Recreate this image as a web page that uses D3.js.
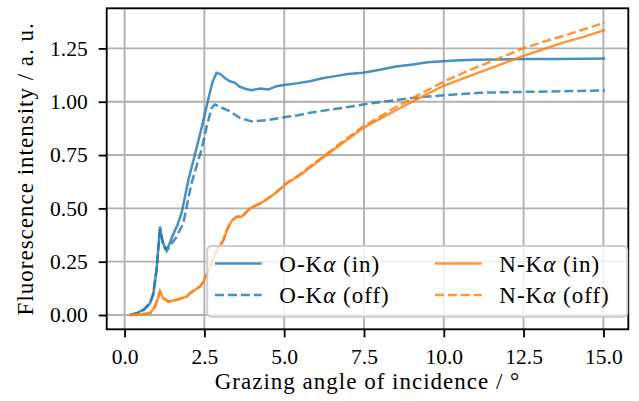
<!DOCTYPE html>
<html>
<head>
<meta charset="utf-8">
<script src="https://cdn.jsdelivr.net/npm/d3@7/dist/d3.min.js"></script>
<style>
  body { margin: 0; background: #fff; }
  text { font-family: "Liberation Serif", "Times New Roman", "DejaVu Serif", serif; fill: #000; }
</style>
</head>
<body>
<svg width="639" height="401"></svg>
<script>
// values
const xTicks = [0, 2.5, 5, 7.5, 10, 12.5, 15];
const yTicks = [0, 0.25, 0.5, 0.75, 1.0, 1.25];

const oInX = [0.17, 0.4, 0.6, 0.8, 0.9, 1.0, 1.05, 1.11, 1.18, 1.27, 1.37, 1.5, 1.65, 1.79, 2.0, 2.2, 2.4, 2.62, 2.75, 2.88, 3.0, 3.15, 3.3, 3.45, 3.61, 3.8, 3.98, 4.24, 4.5, 4.76, 5.0, 5.39, 5.8, 6.2, 6.6, 7.0, 7.47, 8.0, 8.5, 9.03, 9.5, 9.97, 10.5, 11.0, 11.64, 12.5, 13.5, 14.5, 15.05];
const oInY = [0.0, 0.01, 0.025, 0.056, 0.10, 0.21, 0.30, 0.415, 0.35, 0.31, 0.32, 0.37, 0.42, 0.48, 0.634, 0.75, 0.87, 1.01, 1.09, 1.136, 1.13, 1.11, 1.096, 1.09, 1.07, 1.06, 1.054, 1.062, 1.057, 1.073, 1.078, 1.086, 1.096, 1.11, 1.12, 1.13, 1.136, 1.15, 1.165, 1.175, 1.185, 1.19, 1.195, 1.197, 1.198, 1.2, 1.2, 1.202, 1.203];

const oOffX = [0.17, 0.4, 0.6, 0.8, 0.9, 1.0, 1.05, 1.11, 1.2, 1.32, 1.45, 1.6, 1.84, 2.1, 2.41, 2.6, 2.73, 2.83, 3.0, 3.3, 3.61, 3.98, 4.45, 4.86, 5.39, 5.8, 6.43, 7.0, 7.47, 8.0, 8.5, 9.03, 10.0, 11.12, 12.5, 14.0, 15.05];
const oOffY = [0.0, 0.01, 0.025, 0.056, 0.10, 0.21, 0.30, 0.40, 0.34, 0.30, 0.33, 0.36, 0.43, 0.62, 0.775, 0.90, 0.971, 0.987, 0.975, 0.955, 0.924, 0.908, 0.913, 0.924, 0.935, 0.948, 0.963, 0.975, 0.987, 0.998, 1.008, 1.018, 1.03, 1.042, 1.046, 1.05, 1.053];

const nInX = [0.17, 0.5, 0.8, 0.95, 1.05, 1.11, 1.2, 1.37, 1.6, 1.95, 2.05, 2.36, 2.47, 2.67, 2.84, 3.1, 3.2, 3.35, 3.51, 3.67, 3.93, 4.35, 4.71, 5.08, 5.5, 5.91, 6.33, 6.75, 7.47, 8.0, 8.5, 9.03, 9.97, 10.8, 11.64, 12.47, 13.1, 13.73, 14.4, 15.05];
const nInY = [0.0, 0.003, 0.008, 0.039, 0.08, 0.11, 0.08, 0.063, 0.07, 0.086, 0.102, 0.133, 0.156, 0.22, 0.289, 0.352, 0.398, 0.44, 0.461, 0.461, 0.5, 0.531, 0.57, 0.617, 0.656, 0.703, 0.75, 0.797, 0.877, 0.92, 0.96, 1.002, 1.073, 1.12, 1.167, 1.214, 1.245, 1.277, 1.305, 1.336];

const nOffX = [0.17, 0.5, 0.8, 0.95, 1.05, 1.11, 1.2, 1.37, 1.6, 1.95, 2.05, 2.36, 2.47, 2.67, 2.84, 3.1, 3.2, 3.35, 3.51, 3.67, 3.93, 4.35, 4.71, 5.08, 5.5, 5.91, 6.33, 6.75, 7.47, 8.0, 8.5, 9.03, 9.97, 10.8, 11.64, 12.47, 13.1, 13.73, 14.4, 15.05];
const nOffY = [0.0, 0.003, 0.008, 0.039, 0.08, 0.11, 0.08, 0.063, 0.07, 0.086, 0.102, 0.133, 0.156, 0.22, 0.289, 0.352, 0.398, 0.44, 0.461, 0.461, 0.5, 0.531, 0.57, 0.619, 0.66, 0.708, 0.756, 0.804, 0.884, 0.93, 0.975, 1.018, 1.092, 1.148, 1.198, 1.249, 1.28, 1.308, 1.34, 1.371];

const series = [
  { name: "O", tag: "in", xs: oInX, ys: oInY, color: "#1f77b4", dashed: false },
  { name: "O", tag: "off", xs: oOffX, ys: oOffY, color: "#1f77b4", dashed: true },
  { name: "N", tag: "in", xs: nInX, ys: nInY, color: "#ff7f0e", dashed: false },
  { name: "N", tag: "off", xs: nOffX, ys: nOffY, color: "#ff7f0e", dashed: true }
];

const serif = "'Liberation Serif', 'Times New Roman', 'DejaVu Serif', serif";

// margin convention
const svg = d3.select("svg"),
  margin = { top: 8.3, right: 10.7, bottom: 71.7, left: 106.7 },
  width = svg.attr("width") - margin.left - margin.right,
  height = svg.attr("height") - margin.top - margin.bottom;

const x = d3.scaleLinear().domain([-0.56, 15.78]).range([0, width]),
  y = d3.scaleLinear().domain([-0.067, 1.438]).range([height, 0]);

const g = svg.append("g")
  .attr("transform", "translate(" + margin.left + "," + margin.top + ")");

// grid
g.append("g").selectAll("line").data(xTicks).join("line")
  .attr("x1", (d) => x(d)).attr("x2", (d) => x(d))
  .attr("y1", 0).attr("y2", height)
  .attr("stroke", "#b0b0b0").attr("stroke-width", 1.85);
g.append("g").selectAll("line").data(yTicks).join("line")
  .attr("y1", (d) => y(d)).attr("y2", (d) => y(d))
  .attr("x1", 0).attr("x2", width)
  .attr("stroke", "#b0b0b0").attr("stroke-width", 1.85);

g.append("clipPath").attr("id", "clip")
  .append("rect").attr("width", width).attr("height", height);

const line = d3.line()
  .x((d) => x(d[0]))
  .y((d) => y(d[1]));

g.append("g").attr("clip-path", "url(#clip)")
  .selectAll("path").data(series).join("path")
  .attr("fill", "none")
  .attr("stroke", (d) => d.color)
  .attr("stroke-opacity", 0.82)
  .attr("stroke-width", 2.5)
  .attr("stroke-dasharray", (d) => (d.dashed ? "9,3.9" : null))
  .attr("d", (d) => line(d.xs.map((v, i) => [v, d.ys[i]])));

// axes
const xAxis = g.append("g")
  .attr("transform", "translate(0," + height + ")")
  .call(d3.axisBottom(x).tickValues(xTicks).tickFormat(d3.format(".1f"))
    .tickSize(8).tickSizeOuter(0).tickPadding(11));
const yAxis = g.append("g")
  .call(d3.axisLeft(y).tickValues(yTicks).tickFormat(d3.format(".2f"))
    .tickSize(8).tickSizeOuter(0).tickPadding(11));
[xAxis, yAxis].forEach((a) => {
  a.attr("font-family", null).attr("font-size", null);
  a.select(".domain").remove();
  a.selectAll(".tick line").attr("stroke", "#000").attr("stroke-width", 1.85);
  a.selectAll(".tick text").style("font-size", "21.5px")
    .style("font-family", serif).attr("fill", "#000");
});

// frame
g.append("rect")
  .attr("width", width).attr("height", height)
  .attr("fill", "none").attr("stroke", "#000").attr("stroke-width", 1.85);

// axis labels
svg.append("text")
  .attr("x", margin.left + width / 2).attr("y", 389)
  .attr("text-anchor", "middle").style("font-size", "23px").style("font-family", serif)
  .style("letter-spacing", "1px")
  .text("Grazing angle of incidence / °");
svg.append("text")
  .attr("transform", "translate(33," + (margin.top + height / 2) + ") rotate(-90)")
  .attr("text-anchor", "middle").style("font-size", "23px").style("font-family", serif)
  .style("letter-spacing", "1px")
  .text("Fluorescence intensity / a. u.");

// legend
const legend = svg.append("g").attr("transform", "translate(207.3,246)");
legend.append("rect")
  .attr("width", 420).attr("height", 70.7).attr("rx", 4)
  .attr("fill", "#fff").attr("fill-opacity", 0.8)
  .attr("stroke", "#cccccc").attr("stroke-width", 1.85);

const item = legend.selectAll(".item").data(series).join("g")
  .attr("class", "item")
  .attr("transform", (d, i) => "translate(" + (Math.floor(i / 2) * 220) + "," + (17.5 + (i % 2) * 31.5) + ")");
item.append("line")
  .attr("x1", 7.7).attr("x2", 54.4)
  .attr("stroke", (d) => d.color).attr("stroke-opacity", 0.82)
  .attr("stroke-width", 2.5)
  .attr("stroke-dasharray", (d) => (d.dashed ? "9,3.9" : null));
const lt = item.append("text")
  .attr("x", 72).attr("dy", "0.35em").style("font-size", "23px").style("font-family", serif)
  .style("letter-spacing", "1px");
lt.append("tspan").text((d) => d.name + "-K");
lt.append("tspan").style("font-style", "italic").text("α");
lt.append("tspan").text((d) => " (" + d.tag + ")");
</script>
</body>
</html>
